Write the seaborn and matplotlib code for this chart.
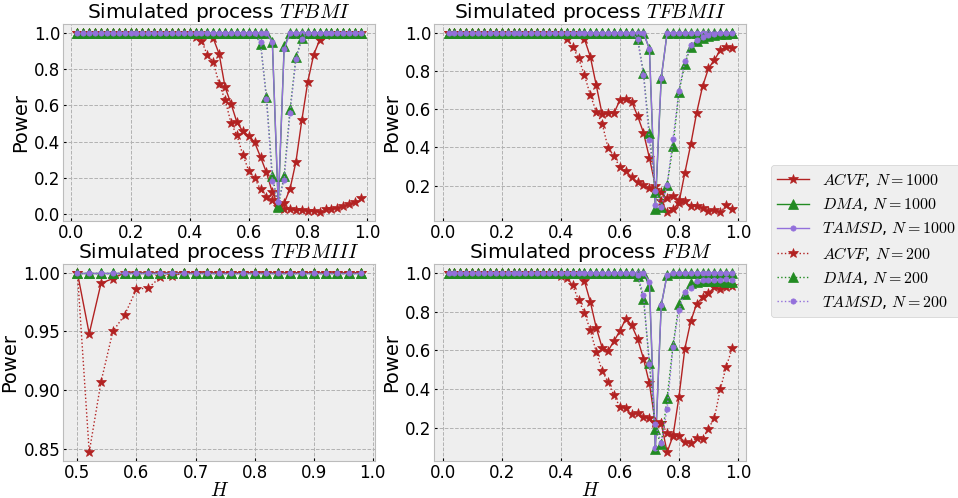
import matplotlib
matplotlib.use("Agg")
import matplotlib.pyplot as plt
import seaborn as sns

# ---------------- data ----------------
H_full = [0.02, 0.04, 0.06, 0.08, 0.10, 0.12, 0.14, 0.16, 0.18, 0.20,
          0.22, 0.24, 0.26, 0.28, 0.30, 0.32, 0.34, 0.36, 0.38, 0.40,
          0.42, 0.44, 0.46, 0.48, 0.50, 0.52, 0.54, 0.56, 0.58, 0.60,
          0.62, 0.64, 0.66, 0.68, 0.70, 0.72, 0.74, 0.76, 0.78, 0.80,
          0.82, 0.84, 0.86, 0.88, 0.90, 0.92, 0.94, 0.96, 0.98]
H_half = [0.50, 0.52, 0.54, 0.56, 0.58, 0.60, 0.62, 0.64, 0.66, 0.68,
          0.70, 0.72, 0.74, 0.76, 0.78, 0.80, 0.82, 0.84, 0.86, 0.88,
          0.90, 0.92, 0.94, 0.96, 0.98]

titles = ["Simulated process $TFBMI$", "Simulated process $TFBMII$",
          "Simulated process $TFBMIII$", "Simulated process $FBM$"]

xticks_full = [0.0, 0.2, 0.4, 0.6, 0.8, 1.0]
xticks_half = [0.5, 0.6, 0.7, 0.8, 0.9, 1.0]
yticks_p1 = [0.0, 0.2, 0.4, 0.6, 0.8, 1.0]
yticks_p2 = [0.2, 0.4, 0.6, 0.8, 1.0]
yticks_p3 = [0.85, 0.90, 0.95, 1.00]
yticks_p4 = [0.2, 0.4, 0.6, 0.8, 1.0]

# Panel 1: TFBMI
p1_acvf_1000 = [1.0] * 22 + [0.995, 0.97, 0.883, 0.70, 0.61, 0.507, 0.457, 0.433, 0.396,
                             0.315, 0.23, 0.12, 0.05, 0.06, 0.14, 0.29, 0.52, 0.73, 0.88,
                             0.96, 0.99] + [1.0] * 6
p1_dma_1000 = [1.0] * 33 + [0.95, 0.04, 0.925] + [1.0] * 13
p1_tamsd_1000 = [1.0] * 33 + [0.95, 0.065, 0.91] + [1.0] * 13
p1_acvf_200 = [1.0] * 20 + [0.98, 0.957, 0.878, 0.84, 0.717, 0.63, 0.504, 0.435, 0.328,
                            0.24, 0.198, 0.137, 0.096, 0.078, 0.04, 0.026, 0.026, 0.022,
                            0.022, 0.015, 0.015, 0.01, 0.026, 0.03, 0.032, 0.045, 0.055,
                            0.068, 0.087]
p1_dma_200 = [1.0] * 31 + [0.94, 0.648, 0.213, 0.044, 0.213, 0.578, 0.865, 0.97] + [1.0] * 10
p1_tamsd_200 = [1.0] * 31 + [0.95, 0.633, 0.185, 0.065, 0.19, 0.56, 0.855, 0.967] + [1.0] * 10

# Panel 2: TFBMII
p2_acvf_1000 = [1.0] * 23 + [0.968, 0.875, 0.726, 0.574, 0.58, 0.58, 0.647, 0.656, 0.64,
                             0.565, 0.477, 0.345, 0.20, 0.12, 0.06, 0.077, 0.11, 0.267,
                             0.416, 0.582, 0.72, 0.814, 0.858, 0.91, 0.925, 0.92]
p2_dma_1000 = [1.0] * 34 + [0.916, 0.077, 0.763] + [1.0] * 12
p2_tamsd_1000 = [1.0] * 34 + [0.916, 0.10, 0.763] + [1.0] * 12
p2_acvf_200 = [1.0] * 19 + [0.995, 0.97, 0.928, 0.868, 0.779, 0.674, 0.588, 0.525, 0.398,
                            0.354, 0.296, 0.279, 0.245, 0.217, 0.202, 0.188, 0.175, 0.165,
                            0.135, 0.147, 0.126, 0.118, 0.095, 0.092, 0.082, 0.065, 0.072,
                            0.06, 0.097, 0.079]
p2_dma_200 = [1.0] * 32 + [0.968, 0.79, 0.474, 0.165, 0.09, 0.205, 0.407, 0.69, 0.837,
                           0.928, 0.956, 0.974, 0.982, 0.988, 0.993, 0.995, 0.997]
p2_tamsd_200 = [1.0] * 32 + [0.966, 0.78, 0.439, 0.174, 0.086, 0.205, 0.445, 0.696, 0.854,
                             0.938, 0.965, 0.98, 0.99, 0.995, 0.997, 1.0, 1.0]

# Panel 3: TFBMIII
p3_acvf_1000 = [1.0, 0.948, 0.991, 0.995, 1.0] + [1.0] * 20
p3_dma_1000 = [1.0] * 25
p3_tamsd_1000 = [1.0] * 25
p3_acvf_200 = [1.0, 0.847, 0.907, 0.95, 0.964, 0.986, 0.987, 0.996, 0.997] + [1.0] * 16
p3_dma_200 = [1.0] * 25
p3_tamsd_200 = [1.0] * 25

# Panel 4: FBM
p4_acvf_1000 = [1.0] * 23 + [0.957, 0.85, 0.717, 0.614, 0.597, 0.648, 0.70, 0.763, 0.729,
                             0.66, 0.557, 0.43, 0.225, 0.225, 0.076, 0.16, 0.36, 0.609,
                             0.75, 0.84, 0.873, 0.895, 0.924, 0.914, 0.924, 0.933]
p4_dma_1000 = [1.0] * 34 + [0.93, 0.09, 0.832, 0.99] + [1.0] * 11
p4_tamsd_1000 = [1.0] * 34 + [0.954, 0.095, 0.832, 0.99] + [1.0] * 11
p4_acvf_200 = [1.0] * 19 + [0.983, 0.974, 0.935, 0.86, 0.794, 0.703, 0.593, 0.494, 0.437,
                            0.368, 0.31, 0.303, 0.272, 0.279, 0.258, 0.25, 0.231, 0.227,
                            0.176, 0.162, 0.159, 0.128, 0.121, 0.15, 0.145, 0.197, 0.253,
                            0.40, 0.516, 0.61]
p4_dma_200 = [1.0] * 32 + [0.983, 0.866, 0.536, 0.193, 0.116, 0.356, 0.627, 0.837, 0.892,
                           0.945, 0.953, 0.955, 0.955, 0.955, 0.955, 0.954, 0.95]
p4_tamsd_200 = [1.0] * 32 + [0.99, 0.885, 0.528, 0.22, 0.124, 0.30, 0.62, 0.81, 0.902,
                             0.923, 0.955, 0.962, 0.963, 0.963, 0.965, 0.968, 0.96]

panels = [
    (H_full, xticks_full, yticks_p1,
     [p1_acvf_1000, p1_dma_1000, p1_tamsd_1000, p1_acvf_200, p1_dma_200, p1_tamsd_200]),
    (H_full, xticks_full, yticks_p2,
     [p2_acvf_1000, p2_dma_1000, p2_tamsd_1000, p2_acvf_200, p2_dma_200, p2_tamsd_200]),
    (H_half, xticks_half, yticks_p3,
     [p3_acvf_1000, p3_dma_1000, p3_tamsd_1000, p3_acvf_200, p3_dma_200, p3_tamsd_200]),
    (H_full, xticks_full, yticks_p4,
     [p4_acvf_1000, p4_dma_1000, p4_tamsd_1000, p4_acvf_200, p4_dma_200, p4_tamsd_200]),
]

series_names = ["ACVF", "DMA", "TAMSD", "ACVF", "DMA", "TAMSD"]
series_N = ["1000", "1000", "1000", "200", "200", "200"]

# ---------------- style ----------------
plt.style.use("bmh")
plt.rcParams.update({
    "axes.facecolor": "#eeeeee",
    "axes.edgecolor": "#bcbcbc",
    "axes.grid": True,
    "grid.color": "#b2b2b2",
    "grid.linestyle": "--",
    "grid.linewidth": 0.7,
    "mathtext.fontset": "cm",
    "font.family": ["DejaVu Sans"],
    "xtick.labelsize": 12,
    "ytick.labelsize": 12,
    "xtick.major.pad": 2,
    "ytick.major.pad": 2,
    "xtick.major.size": 2,
    "ytick.major.size": 2,
})

colors = ["firebrick", "forestgreen", "mediumpurple"] * 2
markers = ["*", "^", "o"] * 2
msizes = [7.5, 6.5, 3.8] * 2
lstyles = ["-", "-", "-", ":", ":", ":"]

fig = plt.figure(figsize=(9.58, 4.98), dpi=100)
axes = fig.subplots(2, 2)
fig.subplots_adjust(left=0.066, right=0.779, top=0.952, bottom=0.074,
                    wspace=0.19, hspace=0.215)

for k, (ax, (H, xt, yt, data)) in enumerate(zip(axes.flat, panels)):
    for j, y in enumerate(data):
        sns.lineplot(x=H, y=y, ax=ax, color=colors[j], marker=markers[j],
                     markersize=msizes[j], markeredgecolor=colors[j],
                     markeredgewidth=0.5, linestyle=lstyles[j], linewidth=1.0,
                     label=f"${series_names[j]}$, $N={series_N[j]}$")
    if ax.get_legend() is not None:
        ax.get_legend().remove()
    ax.set_title(titles[k], fontsize=14.5, pad=1)
    ax.set_ylabel("Power", fontsize=14, labelpad=3)
    if k >= 2:
        ax.set_xlabel("$H$", fontsize=14, labelpad=-1)
    else:
        ax.set_xlabel("")
    ax.set_xticks(xt)
    ax.set_yticks(yt)

handles, labels = axes[0, 0].get_legend_handles_labels()
fig.legend(handles, labels, loc="center left", bbox_to_anchor=(0.796, 0.516),
           fontsize=11.5, frameon=True, facecolor="#eeeeee", edgecolor="#cccccc",
           framealpha=0.9, labelspacing=0.45)

fig.savefig("out.png", dpi=100)
